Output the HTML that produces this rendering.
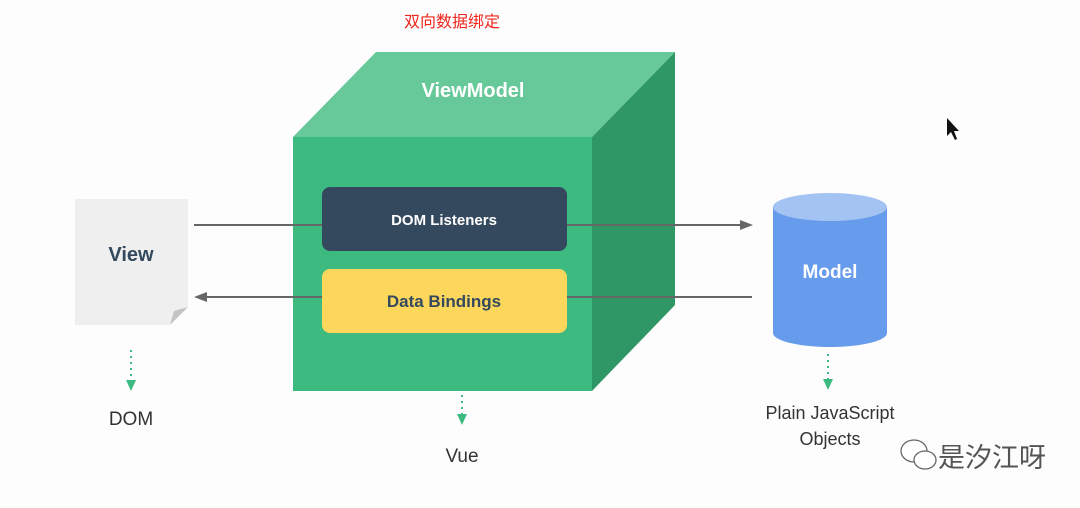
<!DOCTYPE html>
<html><head><meta charset="utf-8"><style>
body{margin:0;width:1080px;height:503px;background:#fff;overflow:hidden}
text{font-family:"Liberation Sans","Noto Sans CJK SC",sans-serif}
</style></head><body>
<svg width="1080" height="503" viewBox="0 0 1080 503">
<rect width="1080" height="503" fill="#fdfdfd"/>
<text x="452" y="27" font-size="16" fill="#f0251c" text-anchor="middle" font-family="Noto Sans CJK SC">双向数据绑定</text>
<polygon points="293,137 376,52 675,52 592,137" fill="#67c99a"/>
<polygon points="592,137 675,52 675,305 592,391" fill="#2f9666"/>
<rect x="293" y="137" width="299" height="254" fill="#3dba80"/>
<text x="473" y="97" font-size="20" font-weight="bold" fill="#fff" text-anchor="middle">ViewModel</text>
<line x1="194" y1="225" x2="742" y2="225" stroke="#666" stroke-width="2"/>
<polygon points="753,225 740,220 740,230" fill="#666"/>
<line x1="206" y1="297" x2="752" y2="297" stroke="#666" stroke-width="2"/>
<polygon points="194,297 207,292 207,302" fill="#666"/>
<rect x="322" y="187" width="245" height="64" rx="8" fill="#34495e"/>
<text x="444" y="225" font-size="15" font-weight="bold" fill="#fff" text-anchor="middle">DOM Listeners</text>
<rect x="322" y="269" width="245" height="64" rx="8" fill="#fdd75c"/>
<text x="444" y="307" font-size="17" font-weight="bold" fill="#34495e" text-anchor="middle">Data Bindings</text>
<polygon points="75,199 188,199 188,307 170,325 75,325" fill="#efefef"/>
<polygon points="188,307 170,325 174,311" fill="#c4c4c4"/>
<text x="131" y="261" font-size="20" font-weight="bold" fill="#34495e" text-anchor="middle">View</text>
<rect x="773" y="207" width="114" height="126" fill="#679cec"/>
<ellipse cx="830" cy="333" rx="57" ry="14" fill="#679cec"/>
<ellipse cx="830" cy="207" rx="57" ry="14" fill="#a3c4f3"/>
<text x="830" y="278" font-size="19" font-weight="bold" fill="#fff" text-anchor="middle">Model</text>
<g stroke="#3dba80" stroke-width="2" stroke-dasharray="2,4">
<line x1="131" y1="350" x2="131" y2="380"/>
<line x1="462" y1="395" x2="462" y2="415"/>
<line x1="828" y1="354" x2="828" y2="380"/>
</g>
<polygon points="126,380 136,380 131,391" fill="#3dba80"/>
<polygon points="457,414 467,414 462,425" fill="#3dba80"/>
<polygon points="823,379 833,379 828,390" fill="#3dba80"/>
<text x="131" y="425" font-size="19" fill="#333" text-anchor="middle">DOM</text>
<text x="462" y="462" font-size="19" fill="#333" text-anchor="middle">Vue</text>
<text x="830" y="419" font-size="18" fill="#333" text-anchor="middle">Plain JavaScript</text>
<text x="830" y="445" font-size="18" fill="#333" text-anchor="middle">Objects</text>
<g fill="#fff" stroke="#666" stroke-width="1.3">
<ellipse cx="914" cy="451" rx="13" ry="11"/>
<ellipse cx="925" cy="460" rx="11" ry="9"/>
</g>
<text x="938" y="467" font-size="27" fill="#555" font-family="Noto Sans CJK SC">是汐江呀</text>
<polygon points="947,118 947,136 951,132 955,140 957,139 954,131 959,131" fill="#111"/>
</svg>
</body></html>
